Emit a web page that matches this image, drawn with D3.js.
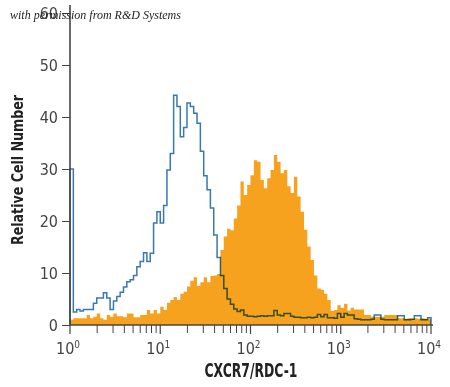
<!DOCTYPE html>
<html lang="en">
<head>
    <meta charset="UTF-8">
    <title>CXCR7/RDC-1 histogram</title>
    <script src="https://d3js.org/d3.v7.min.js"></script>
    <style>
        body { margin: 0; background: #fff; }
        svg { display: block; }
        .axis text { font-family: "Liberation Sans Narrow", "DejaVu Sans Condensed", "Roboto", sans-serif; fill: #444; }
        .axis path, .axis line { stroke: #444; }
    </style>
</head>
<body>
    <script>
        const width = 450;
        const height = 387;

        // 108 log-spaced channels over 10^0 .. 10^4
        const binCount = 108;
        const decades = 4;

        // isotype control (blue outline)
        const isotype = [
            30, 2.5, 3, 2.7, 3, 3, 3, 4.2, 5.2, 5.2,
            6.2, 5.2, 3, 4.6, 5.5, 6.3, 7.3, 8.3, 8.7, 9.5,
            11.2, 12.2, 13.9, 12.2, 13.8, 19.6, 21.8, 19.6, 23, 29.8,
            33, 44.2, 42, 36.2, 38, 42.7, 42, 40.7, 38.8, 33.4,
            28.7, 26, 22.5, 17.3, 13, 9.5, 7, 5, 4, 3.1,
            2.6, 2.9, 1.9, 1.7, 1.7, 1.6, 1.7, 1.8, 1.7, 1.8,
            1.8, 2.8, 1.9, 1.8, 2.2, 2.2, 1.7, 1.5, 1.5, 1.4,
            1.4, 1.5, 1.4, 1.5, 2.0, 1.6, 2.0, 1.4, 1.4, 1.3,
            2.2, 1.5, 2.2, 1.9, 1.9, 1.2, 1.1, 1.0, 1.0, 1.0,
            1.1, 1.9, 1.9, 1.1, 1.0, 1.0, 1.0, 1.0, 1.8, 1.8,
            1.0, 1.0, 1.1, 1.8, 1.8, 1.0, 1.0, 1.4
        ];

        // anti-CXCR7 stained (orange fill)
        const stained = [
            1.0, 1.3, 1.3, 1.3, 1.3, 1.9, 1.3, 1.6, 2.2, 1.3,
            1.0, 1.9, 1.6, 2.2, 1.7, 1.7, 1.5, 2.2, 2.2, 1.5,
            1.5, 1.9, 1.9, 2.9, 2.2, 2.9, 2.2, 3.5, 2.9, 4.3,
            4.8, 5.4, 4.8, 6.0, 6.4, 7.4, 8.5, 9.2, 7.5, 8.2,
            9.2, 8.2, 9.4, 9.5, 9.8, 14.4, 17, 18.5, 18.2, 20.5,
            23, 27.6, 25, 26.9, 28.8, 31.7, 31.4, 27.9, 26.3, 28.2,
            29.8, 32.7, 31.4, 29.2, 29.8, 26.7, 25.4, 28.5, 24.7, 21.8,
            18.3, 15.1, 12.5, 9.5, 7.0, 6.8, 6.0, 4.8, 2.7, 2.9,
            3.8, 3.3, 4.1, 2.8, 3.3, 3.0, 3.0, 3.0, 1.9, 1.9,
            1.6, 1.6, 1.6, 1.6, 1.9, 1.9, 1.9, 1.9, 1.3, 1.3,
            1.2, 1.3, 1.2, 1.3, 1.2, 1.3, 1.2, 1.1
        ];

        const yTicks = [0, 10, 20, 30, 40, 50, 60];
        const xMajor = [1, 10, 100, 1000, 10000];
        const xMinor = d3.range(0, decades).flatMap(k => d3.range(2, 10).map(m => m * Math.pow(10, k)));

        const edges = d3.range(binCount + 1).map(i => Math.pow(10, decades * i / binCount));

        const x = d3.scaleLog().domain([1, 1e4]).range([70, 431]);
        const y = d3.scaleLinear().domain([0, 60]).range([325, 13]);

        const svg = d3.select("body").append("svg")
            .attr("width", width)
            .attr("height", height);

        const stepPoints = vals => {
            const pts = vals.map((v, i) => [edges[i], v]);
            pts.push([edges[binCount], vals[binCount - 1]]);
            return pts;
        };

        // orange filled histogram
        const area = d3.area()
            .curve(d3.curveStepAfter)
            .x(d => x(d[0]))
            .y0(y(0))
            .y1(d => y(d[1]));

        svg.append("path")
            .datum(stepPoints(stained))
            .attr("fill", "#f7a21e")
            .attr("d", area);

        // blue outline histogram
        const line = d3.line()
            .curve(d3.curveStepAfter)
            .x(d => x(d[0]))
            .y(d => y(d[1]));

        const bluePts = [[edges[0], 0]].concat(stepPoints(isotype)).concat([[edges[binCount], 0]]);
        svg.append("path")
            .datum(bluePts)
            .attr("fill", "none")
            .attr("stroke", "#3a78b0")
            .attr("stroke-width", 1.5)
            .style("mix-blend-mode", "multiply")
            .attr("d", line);

        // y axis
        const yAxis = svg.append("g")
            .attr("class", "axis")
            .attr("transform", "translate(70,0)")
            .call(d3.axisLeft(y).tickValues(yTicks).tickSize(8).tickSizeOuter(0).tickPadding(4));
        yAxis.select(".domain").remove();
        yAxis.selectAll(".tick line").attr("stroke-width", 1);
        yAxis.selectAll(".tick text").attr("font-size", 16);
        yAxis.append("line")
            .attr("x1", 0).attr("x2", 0)
            .attr("y1", 5).attr("y2", y(0))
            .attr("stroke", "#444").attr("stroke-width", 1.6);

        // x axis: minor ticks
        const xAxis = svg.append("g")
            .attr("class", "axis")
            .attr("transform", `translate(0,${y(0)})`);
        xAxis.append("line")
            .attr("x1", x(1)).attr("x2", x(1e4) + 2)
            .attr("stroke", "#444").attr("stroke-width", 1.6);
        xAxis.selectAll(".minor")
            .data(xMinor)
            .enter().append("line")
            .attr("x1", d => x(d)).attr("x2", d => x(d))
            .attr("y1", 0).attr("y2", 8)
            .attr("stroke", "#888").attr("stroke-width", 1);
        xAxis.selectAll(".major")
            .data(xMajor)
            .enter().append("line")
            .attr("x1", d => x(d)).attr("x2", d => x(d))
            .attr("y1", 0).attr("y2", 9)
            .attr("stroke", "#444").attr("stroke-width", 1.2);
        const lab = xAxis.selectAll(".lab")
            .data(xMajor)
            .enter().append("text")
            .attr("x", d => x(d) - 2)
            .attr("y", 29)
            .attr("text-anchor", "middle")
            .attr("font-size", 16);
        lab.append("tspan").text("10");
        lab.append("tspan")
            .attr("dy", -6)
            .attr("font-size", 10)
            .text(d => Math.round(Math.log10(d)));

        // axis titles
        svg.append("text")
            .attr("x", 251)
            .attr("y", 377)
            .attr("text-anchor", "middle")
            .attr("font-family", "'Liberation Sans Narrow', 'DejaVu Sans Condensed', sans-serif")
            .attr("font-weight", "bold")
            .attr("font-size", 19)
            .attr("fill", "#222")
            .attr("textLength", 93)
            .attr("lengthAdjust", "spacingAndGlyphs")
            .text("CXCR7/RDC-1");

        svg.append("text")
            .attr("transform", "translate(23,170) rotate(-90)")
            .attr("text-anchor", "middle")
            .attr("font-family", "'Liberation Sans Narrow', 'DejaVu Sans Condensed', sans-serif")
            .attr("font-weight", "bold")
            .attr("font-size", 16)
            .attr("fill", "#222")
            .attr("textLength", 150)
            .attr("lengthAdjust", "spacingAndGlyphs")
            .text("Relative Cell Number");

        // credit line
        svg.append("text")
            .attr("x", 10)
            .attr("y", 19)
            .attr("font-family", "'Liberation Serif', 'DejaVu Serif', serif")
            .attr("font-style", "italic")
            .attr("font-size", 12)
            .attr("fill", "#222")
            .text("with permission from R&D Systems");
    </script>
</body>
</html>
